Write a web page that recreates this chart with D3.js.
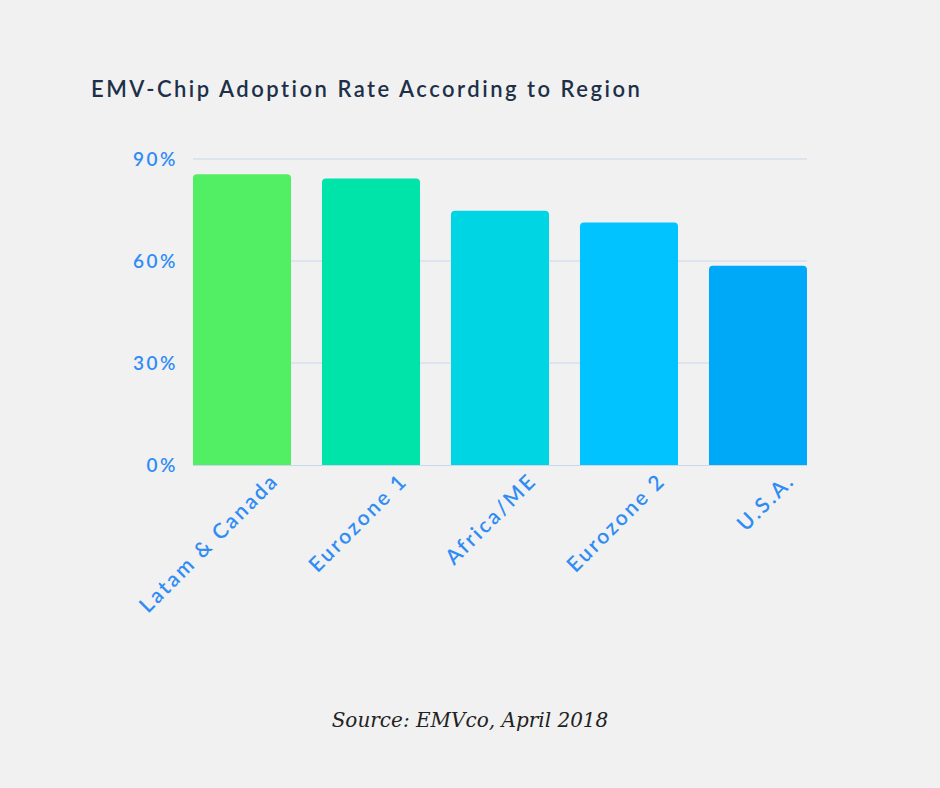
<!DOCTYPE html>
<html><head><meta charset="utf-8">
<script src="https://cdn.jsdelivr.net/npm/d3@7"></script>
<style>
body{margin:0;background:#f1f1f1;}
</style></head><body>
<script>
// Data ---------- ----------
let regions = ["Latam & Canada", "Eurozone 1", "Africa/ME", "Eurozone 2", "U.S.A."];
let rates = [85.5, 84.3, 74.8, 71.3, 58.6];
let colors = ["#52ee63", "#00e3a9", "#00d5e3", "#00c3ff", "#00a8f8"];
let yTicks = [0, 30, 60, 90];

let W = 940, H = 788;
let svg = d3.select("body").append("svg").attr("width", W).attr("height", H)
  .style("background", "#f1f1f1");

let x = d3.scaleBand().domain(regions).range([193, 807]).paddingInner(0.24).paddingOuter(0);
let y = d3.scaleLinear().domain([0, 90]).range([465, 159]);

// Title
svg.append("text").attr("x", 91).attr("y", 97)
  .attr("font-family", "Lato, 'Open Sans', sans-serif").attr("font-size", 22).attr("font-weight", 600)
  .attr("letter-spacing", 2.5).attr("fill", "#1d3048")
  .text("EMV-Chip Adoption Rate According to Region");

// Grid
svg.append("g").selectAll("line").data(yTicks.filter(d => d > 0)).join("line")
  .attr("x1", 193).attr("x2", 807).attr("y1", d => y(d)).attr("y2", d => y(d))
  .attr("stroke", "#c9d7ec").attr("stroke-width", 1);

// Y labels
svg.append("g").selectAll("text").data(yTicks).join("text")
  .attr("x", 178).attr("y", d => y(d) + 7).attr("text-anchor", "end")
  .attr("font-family", "Lato, sans-serif").attr("font-size", 19).attr("font-weight", 600)
  .attr("letter-spacing", 2.5).attr("fill", "#2f8cf5")
  .text(d => d + "%");

// Bars
svg.append("g").selectAll("path").data(regions).join("path")
  .attr("fill", (d, i) => colors[i])
  .attr("d", (d, i) => {
    let x0 = x(d), w = x.bandwidth(), y0 = y(rates[i]), b = y(0), r = 4;
    return `M${x0},${b}V${y0 + r}Q${x0},${y0} ${x0 + r},${y0}H${x0 + w - r}Q${x0 + w},${y0} ${x0 + w},${y0 + r}V${b}Z`;
  });

// Baseline
svg.append("line").attr("x1", 193).attr("x2", 807).attr("y1", 465.5).attr("y2", 465.5)
  .attr("stroke", "#c9d7ec");

// X labels
svg.append("g").selectAll("text").data(regions).join("text")
  .attr("transform", d => `translate(${x(d) + x.bandwidth() / 2 + 38},${482}) rotate(-45)`)
  .attr("text-anchor", "end")
  .attr("font-family", "Lato, sans-serif").attr("font-size", 21).attr("font-weight", 600)
  .attr("letter-spacing", 2.5).attr("fill", "#2f8cf5")
  .text(d => d);

// Source
svg.append("text").attr("x", 470).attr("y", 727).attr("text-anchor", "middle")
  .attr("font-family", "'DejaVu Serif', serif").attr("font-style", "italic")
  .attr("font-size", 20).attr("fill", "#222")
  .text("Source: EMVco, April 2018");
</script>
</body></html>
